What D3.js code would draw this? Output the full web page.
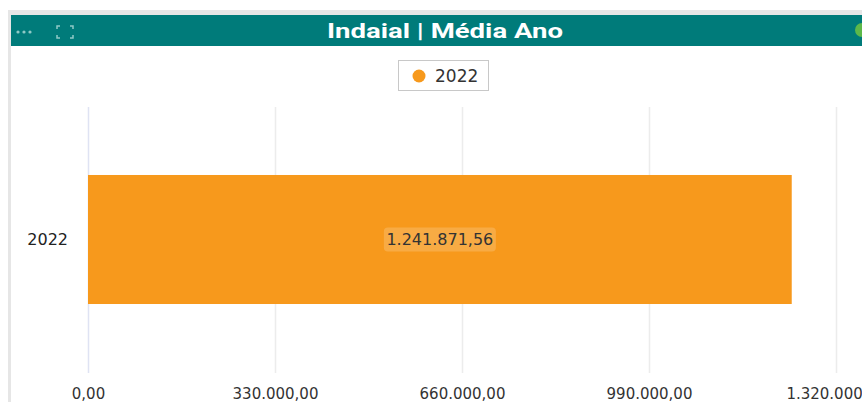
<!DOCTYPE html>
<html>
<head>
<meta charset="utf-8">
<script src="https://cdn.jsdelivr.net/npm/d3@7"></script>
<style>
  body { margin: 0; background: #fff; }
  svg { display: block; font-family: "DejaVu Sans", Arial, sans-serif; }
</style>
</head>
<body>
<svg id="chart" width="862" height="402"></svg>
<script>
// data
const categories = ["2022"];
const values = [1241871.56];
const seriesName = "2022";
const tickValues = [0, 330000, 660000, 990000, 1320000];

const W = 862, H = 402;
const svg = d3.select("#chart");

const fmt = v => {
  let s = v.toFixed(2).split(".");
  return s[0].replace(/\B(?=(\d{3})+(?!\d))/g, ".") + "," + s[1];
};

// panel frame
svg.append("rect").attr("x", 8).attr("y", 10).attr("width", W - 8).attr("height", H - 10).attr("fill", "#e6e6e6");
svg.append("rect").attr("x", 11).attr("y", 15).attr("width", W - 11).attr("height", H - 15).attr("fill", "#fff");

// header
svg.append("rect").attr("x", 11).attr("y", 15).attr("width", W - 11).attr("height", 31).attr("fill", "#007b7a");
svg.append("text").attr("x", 445).attr("y", 38).attr("text-anchor", "middle")
  .attr("fill", "#fff").attr("font-size", 20).attr("font-weight", "bold")
  .attr("font-family", "Roboto, Arial, sans-serif")
  .attr("textLength", 236).attr("lengthAdjust", "spacingAndGlyphs")
  .text("Indaial | Média Ano");

// header icons
[18, 24, 30].forEach(x => svg.append("circle").attr("cx", x).attr("cy", 32).attr("r", 1.6).attr("fill", "#8fc9c6"));
svg.append("path")
  .attr("d", "M57,29 v-3 h3 M70,26 h3 v3 M73,35 v3 h-3 M60,38 h-3 v-3")
  .attr("fill", "none").attr("stroke", "#8fc9c6").attr("stroke-width", 1.5);
svg.append("circle").attr("cx", 862).attr("cy", 30).attr("r", 7).attr("fill", "#5cb84a");

// legend
const lg = svg.append("g");
lg.append("rect").attr("x", 398.5).attr("y", 60.5).attr("width", 90).attr("height", 30)
  .attr("fill", "#fff").attr("stroke", "#c8c8c8");
lg.append("circle").attr("cx", 419).attr("cy", 76).attr("r", 6.5).attr("fill", "#f7991c");
lg.append("text").attr("x", 435).attr("y", 82).attr("font-size", 17).attr("fill", "#333").text(seriesName);

// scales
const x = d3.scaleLinear().domain([0, 1320000]).range([88, 836]);
const y = d3.scaleBand().domain(categories).range([107, 372]).paddingInner(0).paddingOuter(0.527);

// grid
svg.append("g").selectAll("line").data(tickValues).join("line")
  .attr("x1", d => x(d) + 0.5).attr("x2", d => x(d) + 0.5)
  .attr("y1", 107).attr("y2", 373)
  .attr("stroke", (d, i) => i === 0 ? "#dfe3f3" : "#ececec").attr("stroke-width", 1.5);

// x axis labels
const xAxis = d3.axisBottom(x).tickValues(tickValues).tickFormat(fmt).tickSize(0).tickPadding(0);
const gx = svg.append("g").attr("transform", "translate(0,388)").call(xAxis);
gx.select(".domain").remove();
gx.selectAll("text").attr("font-size", 15).attr("fill", "#333")
  .attr("font-family", "'DejaVu Sans', Arial, sans-serif");

// y axis labels
const yAxis = d3.axisLeft(y).tickSize(0).tickPadding(0);
const gy = svg.append("g").attr("transform", "translate(68,0)").call(yAxis);
gy.select(".domain").remove();
gy.selectAll("text").attr("font-size", 16).attr("fill", "#222")
  .attr("font-family", "'DejaVu Sans', Arial, sans-serif");

// bars
svg.append("g").selectAll("rect").data(values).join("rect")
  .attr("x", x(0)).attr("y", (d, i) => y(categories[i]))
  .attr("width", d => x(d) - x(0)).attr("height", y.bandwidth())
  .attr("fill", "#f7991c");

// data labels
const lbl = svg.append("g").selectAll("g").data(values).join("g")
  .attr("transform", (d, i) => `translate(${(x(0) + x(d)) / 2},${y(categories[i]) + y.bandwidth() / 2})`);
lbl.append("rect").attr("x", -56).attr("y", -12).attr("width", 112).attr("height", 24).attr("rx", 4)
  .attr("fill", "#fff").attr("fill-opacity", 0.18);
lbl.append("text").attr("text-anchor", "middle").attr("dy", "0.36em")
  .attr("font-size", 16).attr("fill", "#333").text(d => fmt(d));
</script>
</body>
</html>
